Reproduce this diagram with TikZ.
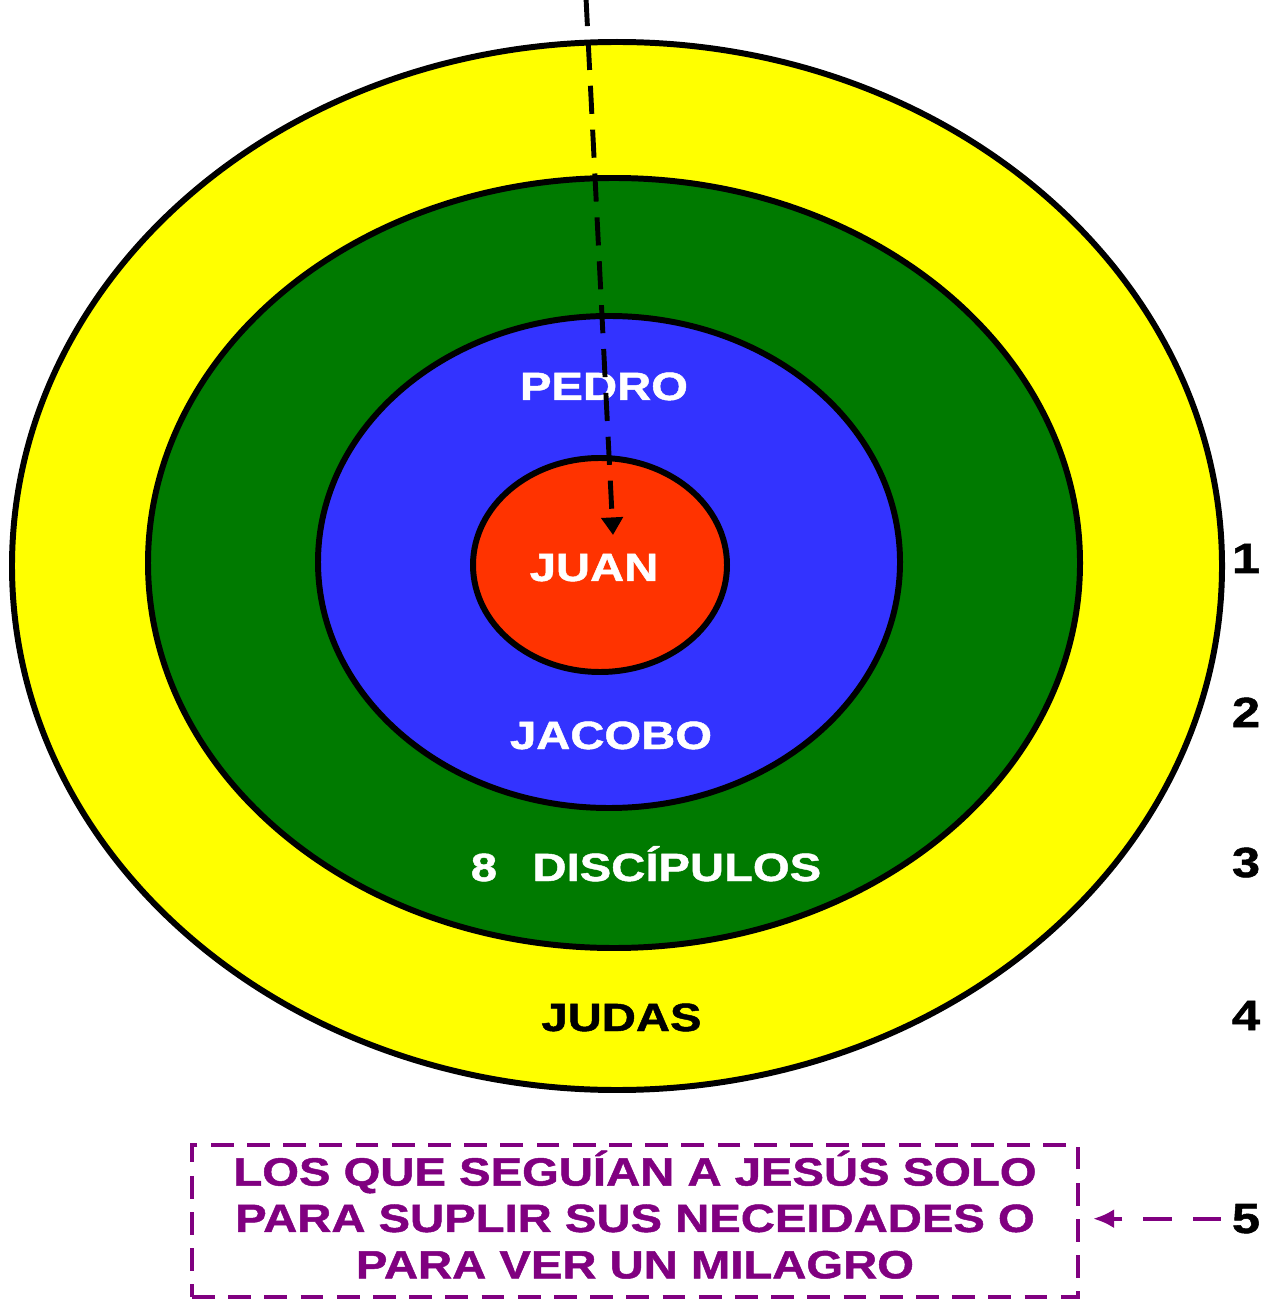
\documentclass[tikz,border=0pt]{standalone}
\usepackage{fontspec}
\usetikzlibrary{arrows.meta}
\newfontfamily\heavy{Liberation Sans}[FakeStretch=1.2,BoldFeatures={FakeBold=1.2}]
\definecolor{ringyellow}{RGB}{255,255,0}
\definecolor{ringgreen}{RGB}{0,122,0}
\definecolor{ringblue}{RGB}{51,51,255}
\definecolor{ringred}{RGB}{255,51,0}
\definecolor{crowdpurple}{RGB}{128,0,128}
\begin{document}
\begin{tikzpicture}[
  ring/.style={draw=black, line width=1.7pt},
  lbl/.style={font=\heavy\bfseries\fontsize{11.2}{13.2}\selectfont, text=white, inner sep=0pt, anchor=base},
  num/.style={font=\heavy\bfseries\fontsize{12}{14}\selectfont, inner sep=3pt, anchor=base},
  crowdbox/.style={draw=crowdpurple, line width=1.2pt, dash pattern=on 6.5pt off 3.8pt,
    minimum width=8.86cm, minimum height=1.52cm, inner ysep=0pt, align=center, text=crowdpurple,
    font=\heavy\bfseries\fontsize{11.2}{13.2}\selectfont}
]
  \useasboundingbox (0,0) rectangle (12.73,-13);
  % rings, outside in
  \draw[ring, fill=ringyellow] (6.17,-5.66) ellipse [x radius=6.05, y radius=5.24];
  \draw[ring, fill=ringgreen] (6.14,-5.63) ellipse [x radius=4.66, y radius=3.85];
  \draw[ring, fill=ringblue] (6.09,-5.62) ellipse [x radius=2.91, y radius=2.46];
  \draw[ring, fill=ringred] (6.00,-5.65) ellipse [x radius=1.27, y radius=1.07];
  % names
  \node[lbl] (pedro) at (6.04,-4.00) {PEDRO};
  \node[lbl] (juan) at (5.94,-5.81) {JUAN};
  \node[lbl] (jacobo) at (6.11,-7.49) {JACOBO};
  \node[lbl] (ocho) at (6.46,-8.81) {8\hspace{0.9em}DISCÍPULOS};
  \node[lbl, text=black] (judas) at (6.215,-10.31) {JUDAS};
  % numbers on the right
  \node[num] (n1) at (12.46,-5.73) {1};
  \node[num] (n2) at (12.46,-7.27) {2};
  \node[num] (n3) at (12.46,-8.77) {3};
  \node[num] (n4) at (12.46,-10.30) {4};
  \node[num] (n5) at (12.46,-12.33) {5};
  % the crowd
  \node[crowdbox] (crowd) at (6.35,-12.21) {LOS QUE SEGUÍAN A JESÚS SOLO\\PARA SUPLIR SUS NECEIDADES O\\PARA VER UN MILAGRO\rule[-0.13cm]{0pt}{0pt}};
  \draw[crowdpurple, line width=1.2pt, dash pattern=on 8pt off 6pt, shorten >=0.13cm,
    -{Latex[length=6pt,width=5.5pt]}] (n5.west) -- (n5.west -| crowd.east);
  % call line
  \coordinate (sky) at (5.86,0.02);
  \coordinate (aim) at (6.13,-5.35);
  \draw[line width=1.4pt, dash pattern=on 8pt off 4.5pt, -{Triangle[width=6pt,length=5pt]}] (sky) -- (aim);
\end{tikzpicture}
\end{document}
